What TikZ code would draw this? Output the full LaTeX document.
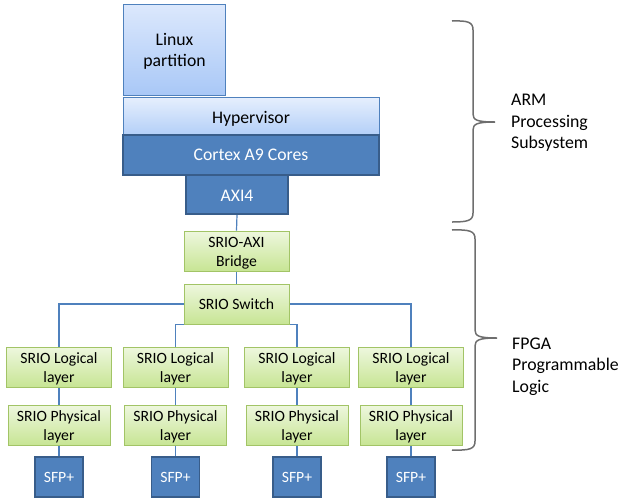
\documentclass[tikz,border=0pt]{standalone}
\usepackage{fontspec}
\setmainfont{Carlito}
\usetikzlibrary{backgrounds}
\definecolor{linec}{HTML}{4F81BD}
\definecolor{darkb}{HTML}{4F81BD}
\definecolor{darkbd}{HTML}{385D8A}
\definecolor{ltop}{HTML}{DCE8FC}
\definecolor{lbot}{HTML}{A9C8F7}
\definecolor{htop}{HTML}{E6EFFD}
\definecolor{hbot}{HTML}{B3CFF8}
\definecolor{gtop}{HTML}{EEF7DE}
\definecolor{gbot}{HTML}{C7E594}
\definecolor{gbd}{HTML}{A2C466}
\definecolor{bracec}{HTML}{6E6E6E}
\tikzset{
  bigtext/.style={font=\fontsize{17.7}{21}\selectfont, align=center, text height=13.4pt, text depth=0pt},
  smalltext/.style={font=\fontsize{15.7}{19}\selectfont, align=center, text height=11.1pt, text depth=0pt},
  twoline/.style={text height=30.1pt, text depth=0pt},
  lightbox/.style={bigtext, draw=linec, line width=0.8pt, top color=ltop, bottom color=lbot, inner sep=0pt},
  hypbox/.style={bigtext, draw=linec, line width=0.8pt, top color=htop, bottom color=hbot, inner sep=0pt},
  darkbox/.style={draw=darkbd, line width=1.4pt, fill=darkb, text=white, inner sep=0pt},
  greenbox/.style={smalltext, draw=gbd, line width=0.8pt, top color=gtop, bottom color=gbot, inner sep=0pt},
  conn/.style={draw=linec, line width=1.2pt},
  bracepath/.style={draw=bracec, line width=1.5pt},
  sidelabel/.style={font=\fontsize{17.8}{21.3}\selectfont, align=left, anchor=west, inner sep=0pt, text height=54.1pt, text depth=0pt}
}
\begin{document}
\begin{tikzpicture}[x=1pt,y=-1pt]
\useasboundingbox (0,0) rectangle (619,501);
% top part
\node[lightbox, minimum width=102, minimum height=91, text height=34.4pt] (linux) at (174.5,49.5) {Linux\\partition};
\node[hypbox, minimum width=256, minimum height=38, text height=15pt] (hyp) at (251,116) {Hypervisor};
\node[darkbox, bigtext, minimum width=256, minimum height=40, text height=11.8pt] (cortex) at (251,155) {Cortex A9 Cores};
\node[darkbox, bigtext, minimum width=102, minimum height=39, text height=14.4pt] (axi) at (237,194.5) {AXI4};
% fpga part
\node[greenbox, twoline, minimum width=105, minimum height=40] (bridge) at (236.5,251) {SRIO-AXI\\Bridge};
\node[greenbox, minimum width=105, minimum height=40] (switch) at (236.5,304) {SRIO Switch};
\foreach \i/\x in {1/59,2/175.5,3/297,4/411}{
  \node[greenbox, twoline, minimum width=105, minimum height=40] (log\i) at (\x,367) {SRIO Logical\\layer};
  \node[greenbox, twoline, minimum width=102, minimum height=40] (phy\i) at (\x,425) {SRIO Physical\\layer};
  \node[darkbox, smalltext, minimum width=48, minimum height=40] (sfp\i) at (\x,477) {SFP+};
}
\begin{scope}[on background layer]
\draw[conn] (axi.south) -- (bridge.north);
\draw[conn] (bridge.south) -- (switch.north);
\draw[conn] (switch.west) -| (log1.north);
\draw[conn] (switch.east) -| (log4.north);
\draw[conn] (log2.north) |- (switch.south) -| (log3.north);
\foreach \i in {1,2,3,4}{
  \draw[conn] (log\i.south) -- (phy\i.north);
  \draw[conn] (phy\i.south) -- (sfp\i.north);
}
\end{scope}
% braces
\draw[bracepath] (452,21) .. controls (468,20.5) and (473,22) .. (473,30) -- (473,114)
  .. controls (473,120) and (477,122) .. (495,122)
  .. controls (477,122) and (473,124) .. (473,130) -- (473,213)
  .. controls (473,220.5) and (468,222) .. (452,222);
\draw[bracepath] (452,230) .. controls (470,229.5) and (475,231) .. (475,239) -- (475,330)
  .. controls (475,336) and (479,338) .. (497,338)
  .. controls (479,338) and (475,340) .. (475,346) -- (475,441)
  .. controls (475,449) and (470,450.5) .. (452,450);
\node[sidelabel] (arm) at (511,121.5) {ARM\\Processing\\Subsystem};
\node[sidelabel] (fpga) at (512,365) {FPGA\\Programmable\\Logic};
\end{tikzpicture}
\end{document}
